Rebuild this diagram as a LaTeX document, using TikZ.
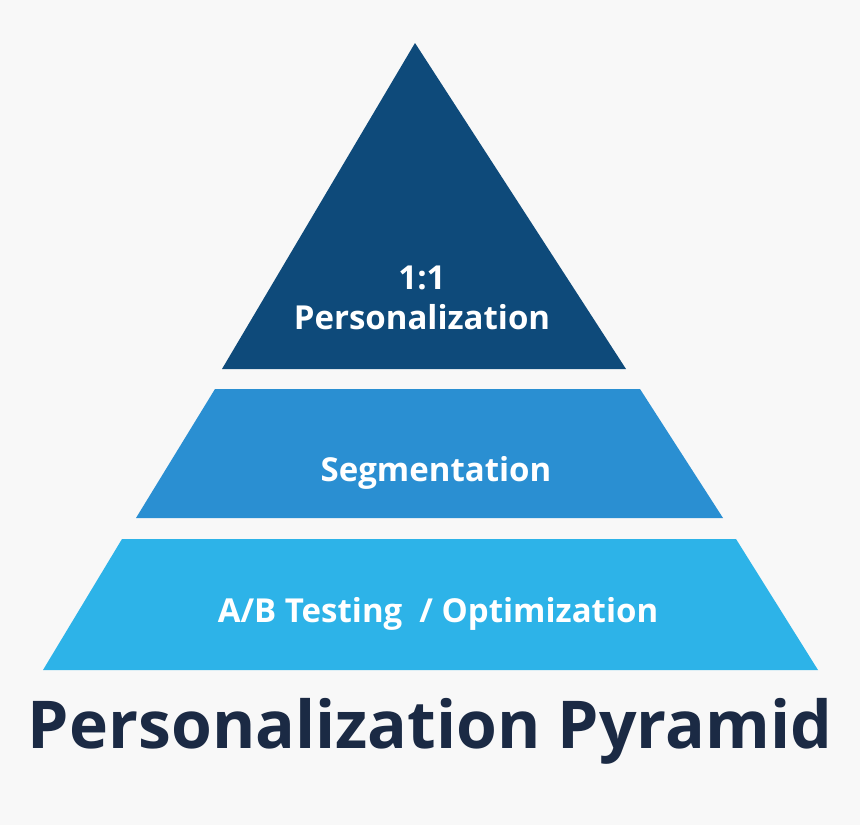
\documentclass[tikz,border=0pt]{standalone}
\usepackage{fontspec}
\setmainfont{Open Sans}
\definecolor{bg}{HTML}{F8F8F8}
\definecolor{topc}{HTML}{0E4A7A}
\definecolor{midc}{HTML}{2A8FD2}
\definecolor{botc}{HTML}{2DB3E8}
\definecolor{titlec}{HTML}{1B2A44}
\begin{document}
\begin{tikzpicture}[x=1pt,y=-1pt,
  lbl/.style={text=white,font=\bfseries\fontsize{33}{40}\selectfont,align=center}]
\fill[bg] (0,0) rectangle (860,825);
\useasboundingbox (0,0) rectangle (860,825);
\fill[topc] (415,43) -- (626,369) -- (222,369) -- cycle;
\fill[midc] (215,389) -- (640,389) -- (723,518) -- (136,518) -- cycle;
\fill[botc] (122,539) -- (736,539) -- (818,670) -- (43,670) -- cycle;
\node[lbl] (a) at (422,298) {1:1\\Personalization};
\node[lbl] (b) at (436,473) {Segmentation};
\node[lbl] (c) at (438,614) {A/B Testing\ \ / Optimization};
\node[text=titlec,font=\bfseries\fontsize{66}{70}\selectfont] (t) at (430,731) {Personalization Pyramid};
\end{tikzpicture}
\end{document}
